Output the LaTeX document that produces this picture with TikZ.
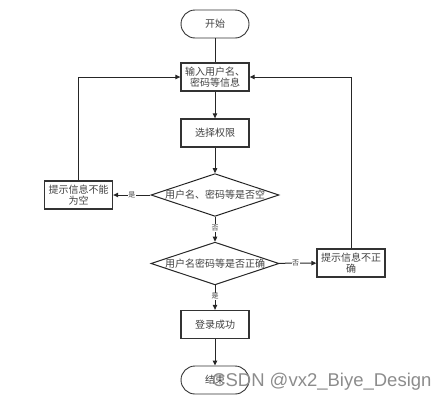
\documentclass[tikz,border=0pt]{standalone}
\usepackage{fontspec}
\setmainfont{Noto Sans CJK SC}
\newfontfamily\wmfont{Liberation Sans}
\usetikzlibrary{shapes.geometric,arrows.meta}
\begin{document}
\begin{tikzpicture}[x=1pt,y=-1pt,
  every node/.style={font=\fontsize{10}{11.5}\selectfont, text=black!75, inner sep=1pt},
  proc/.style={draw=black!80, line width=1.3pt, minimum width=68pt, minimum height=28pt, align=center, text width=64pt},
  term/.style={draw=black!80, line width=0.9pt, rounded corners=14pt, minimum width=68pt, minimum height=28pt},
  dec/.style={draw=black!85, line width=1pt, diamond, aspect=3, minimum width=123pt, minimum height=41pt, inner sep=0pt},
  conn/.style={draw=black!85, line width=1pt},
  arr/.style={conn, -{Triangle[length=5pt,width=4.5pt]}},
  lbl/.style={fill=white, font=\fontsize{7}{8}\selectfont, inner sep=0.5pt}
]
\useasboundingbox (0,0) rectangle (446,402);
\node[term] (start) at (215,24) {开始};
\node[proc] (input) at (215,77) {输入用户名、\\密码等信息};
\node[proc] (role) at (215,133) {选择权限};
\node[dec] (d1) at (215,195) {用户名、密码等是否空};
\node[proc] (empty) at (78.5,195) {提示信息不能\\为空};
\node[dec] (d2) at (215,263.5) {用户名密码等是否正确};
\node[proc] (wrong) at (351,263) {提示信息不正\\确};
\node[proc] (ok) at (215,324.5) {登录成功};
\node[term] (end) at (215,380) {结束};

\draw[conn] (start) -- (input);
\draw[arr] (input) -- (role);
\draw[arr] (role) -- (d1);
\draw[arr] (d1) -- node[lbl]{是} (empty);
\draw[arr] (d1) -- node[lbl, pos=0.45]{否} (d2);
\draw[arr] (d2) -- node[lbl, pos=0.45]{否} (wrong);
\draw[arr] (d2) -- node[lbl, pos=0.45]{是} (ok);
\draw[arr] (ok) -- (end);
\draw[arr] (empty.north) -- (empty.north |- input.west) -- (input.west);
\draw[arr] (wrong.north) -- (wrong.north |- input.east) -- (input.east);

\node[font=\wmfont\fontsize{18.5}{20}\selectfont, text=black!45, anchor=west, inner sep=0pt] (wm) at (212,382) {CSDN @vx2\_Biye\_Design};
\end{tikzpicture}
\end{document}
